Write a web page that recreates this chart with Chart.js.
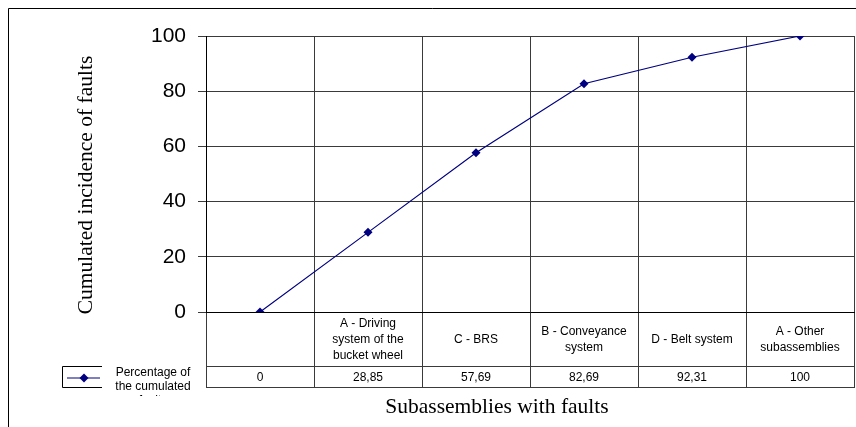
<!DOCTYPE html>
<html>
<head>
<meta charset="utf-8">
<script src="https://cdn.jsdelivr.net/npm/chart.js@4/dist/chart.umd.min.js"></script>
<style>
  html, body { margin: 0; padding: 0; background: #fff; }
  canvas { display: block; }
</style>
</head>
<body>
<canvas id="chart" width="856" height="427"></canvas>
<script>
// Subassemblies, in order of cumulated faults (multi-line labels for the table row)
const categoryLabels = [
  [''],
  ['A - Driving', 'system of the', 'bucket wheel'],
  ['C - BRS'],
  ['B - Conveyance', 'system'],
  ['D - Belt system'],
  ['A - Other', 'subassemblies']
];
// Cumulated incidence of faults, percent
const cumulatedPercent = [0, 28.85, 57.69, 82.69, 92.31, 100];
const yTicks = [0, 20, 40, 60, 80, 100];
const seriesName = ['Percentage of', 'the cumulated', 'faults'];
const yTitle = 'Cumulated incidence of faults';
const xTitle = 'Subassemblies with faults';

const NAVY = '#000080';
const GRID = '#3a3a3a';
const SANS = 'Arial, "Liberation Sans", sans-serif';
const SERIF = '"Times New Roman", "Liberation Serif", serif';
const TABLE_DEPTH = 76;   // how far the table extends below the plot
const LABEL_ROW = 54;     // height of the category-name row

// Draws the frame, the data-table value row, the legend key and the axis titles
const tableAndFrame = {
  id: 'tableAndFrame',
  beforeDraw(chart) {
    const c = chart.ctx;
    c.save();
    c.fillStyle = '#fff';
    c.fillRect(0, 0, chart.width, chart.height);
    c.restore();
  },
  afterDraw(chart) {
    const c = chart.ctx;
    const xs = chart.scales.x;
    const area = chart.chartArea;
    const rowTop = xs.top + LABEL_ROW;
    const rowBottom = xs.top + TABLE_DEPTH;
    c.save();

    // outer frame (top and left edges)
    c.strokeStyle = '#000';
    c.lineWidth = 1;
    c.beginPath();
    c.moveTo(8.5, chart.height);
    c.lineTo(8.5, 8.5);
    c.lineTo(chart.width, 8.5);
    c.stroke();

    // table row lines
    c.strokeStyle = GRID;
    c.beginPath();
    c.moveTo(area.left, Math.round(rowTop) + 0.5);
    c.lineTo(area.right, Math.round(rowTop) + 0.5);
    c.moveTo(area.left, Math.round(rowBottom) - 0.5);
    c.lineTo(area.right, Math.round(rowBottom) - 0.5);
    c.stroke();

    // value row
    c.fillStyle = '#000';
    c.font = '12px ' + SANS;
    c.textAlign = 'center';
    c.textBaseline = 'middle';
    cumulatedPercent.forEach((v, i) => {
      c.fillText(String(v).replace('.', ','), xs.getPixelForValue(i), (rowTop + rowBottom) / 2 + 1);
    });

    // legend key
    const kx = 62, ky = rowTop;
    c.strokeStyle = '#000';
    c.beginPath();
    c.moveTo(kx + 40, ky + 0.5);
    c.lineTo(kx + 0.5, ky + 0.5);
    c.lineTo(kx + 0.5, rowBottom - 0.5);
    c.lineTo(kx + 40, rowBottom - 0.5);
    c.stroke();
    const ly = (rowTop + rowBottom) / 2 + 1;
    c.strokeStyle = NAVY;
    c.lineWidth = 1.2;
    c.beginPath();
    c.moveTo(kx + 5, ly);
    c.lineTo(kx + 38, ly);
    c.stroke();
    c.fillStyle = NAVY;
    c.beginPath();
    c.moveTo(kx + 22, ly - 4.5);
    c.lineTo(kx + 26.5, ly);
    c.lineTo(kx + 22, ly + 4.5);
    c.lineTo(kx + 17.5, ly);
    c.closePath();
    c.fill();

    // legend text, clipped at the bottom like a cell
    c.save();
    c.beginPath();
    c.rect(100, rowTop - 4, 110, rowBottom - rowTop + 12);
    c.clip();
    c.fillStyle = '#000';
    c.font = '12px ' + SANS;
    c.textAlign = 'center';
    seriesName.forEach((t, i) => c.fillText(t, 153, rowTop + 7 + i * 14));
    c.restore();

    // axis titles
    c.fillStyle = '#000';
    c.font = '21.5px ' + SERIF;
    c.textAlign = 'center';
    c.textBaseline = 'middle';
    c.fillText(xTitle, 497, 407);
    c.translate(86, 185);
    c.rotate(-Math.PI / 2);
    c.fillText(yTitle, 0, 0);
    c.restore();
  }
};

new Chart(document.getElementById('chart'), {
  type: 'line',
  data: {
    labels: categoryLabels,
    datasets: [{
      label: seriesName.join(' '),
      data: cumulatedPercent,
      borderColor: NAVY,
      backgroundColor: NAVY,
      borderWidth: 1.2,
      tension: 0,
      fill: false,
      pointStyle: 'rectRot',
      pointRadius: 4.5,
      pointBorderWidth: 0,
      pointBackgroundColor: NAVY
    }]
  },
  options: {
    responsive: false,
    animation: false,
    devicePixelRatio: 1,
    layout: { autoPadding: false, padding: { top: 36, right: 2, left: 0, bottom: 0 } },
    plugins: { legend: { display: false }, tooltip: { enabled: false } },
    scales: {
      x: {
        offset: true,
        grid: { offset: true, color: GRID, tickColor: GRID, tickLength: TABLE_DEPTH, lineWidth: 1 },
        border: { color: '#000' },
        ticks: {
          padding: -64,
          crossAlign: 'center',
          autoSkip: false,
          maxRotation: 0,
          color: '#000',
          font: { family: SANS, size: 12, lineHeight: 1.3 }
        },
        afterFit(s) {
          s.height = 115;
          s.paddingLeft = 0;
          s.paddingRight = 0;
        }
      },
      y: {
        min: 0,
        max: 100,
        afterBuildTicks(s) { s.ticks = yTicks.map(v => ({ value: v })); },
        grid: { color: GRID, tickColor: GRID, tickLength: 8, lineWidth: 1 },
        border: { color: '#000' },
        ticks: { color: '#000', padding: 12, font: { family: SANS, size: 21 } },
        afterFit(s) { s.width = 206; }
      }
    }
  },
  plugins: [tableAndFrame]
});
</script>
</body>
</html>
